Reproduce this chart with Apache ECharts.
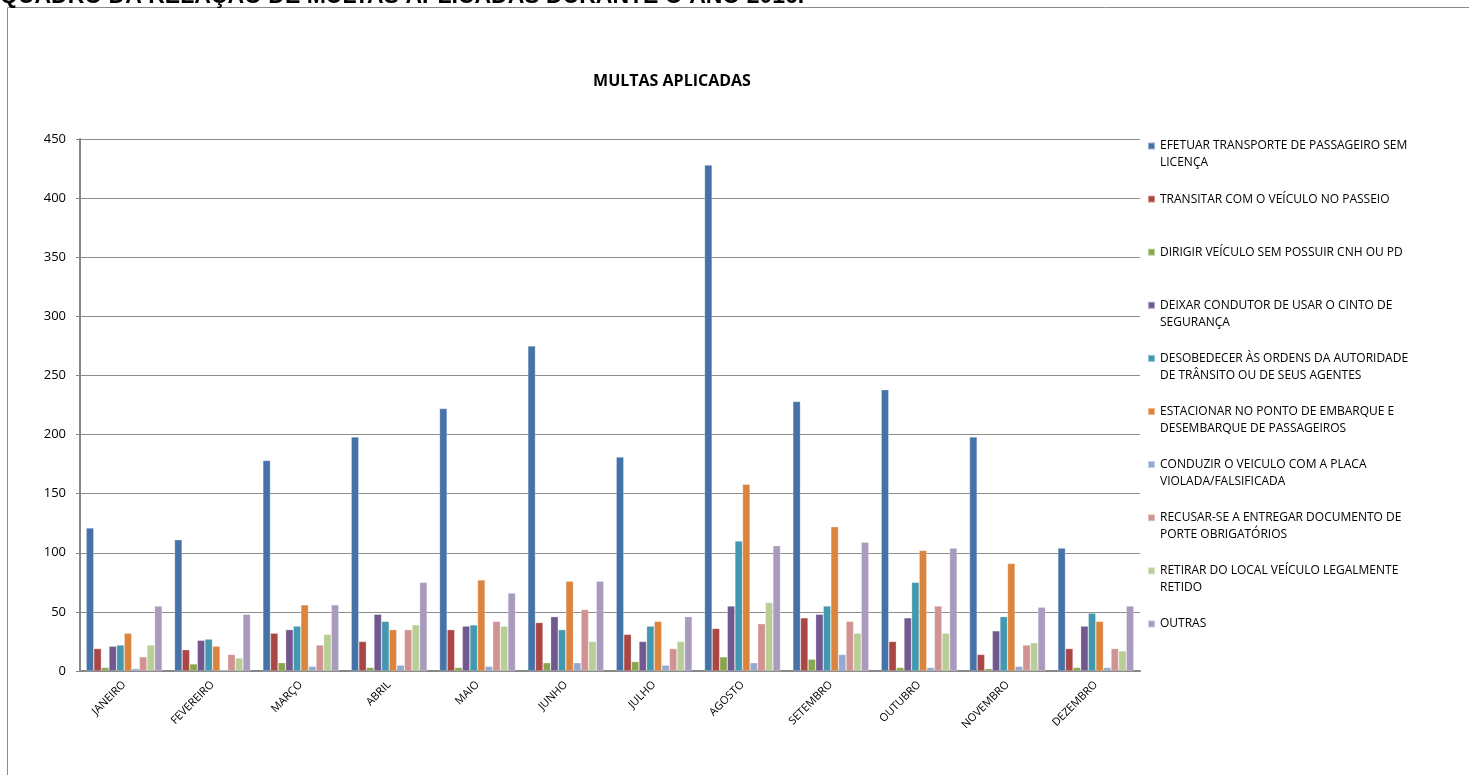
<!DOCTYPE html>
<html lang="pt">
<head>
    <meta charset="UTF-8">
    <title>Multas aplicadas</title>
    <script src="https://cdn.jsdelivr.net/npm/echarts@6/dist/echarts.min.js"></script>
    <style>
        html, body { margin: 0; padding: 0; background: #fff; }
        #main { width: 1469px; height: 775px; }
    </style>
</head>
<body>
<div id="main"></div>
<script>
    // meses
    var meses = ['JANEIRO', 'FEVEREIRO', 'MARÇO', 'ABRIL', 'MAIO', 'JUNHO',
        'JULHO', 'AGOSTO', 'SETEMBRO', 'OUTUBRO', 'NOVEMBRO', 'DEZEMBRO'];

    // tipos de infração (texto da legenda, já quebrado em duas linhas)
    var infracoes = [
        'EFETUAR TRANSPORTE DE PASSAGEIRO SEM\nLICENÇA',
        'TRANSITAR COM O VEÍCULO NO PASSEIO',
        'DIRIGIR VEÍCULO SEM POSSUIR CNH OU PD',
        'DEIXAR CONDUTOR DE USAR O CINTO DE\nSEGURANÇA',
        'DESOBEDECER ÀS ORDENS DA AUTORIDADE\nDE TRÂNSITO OU DE SEUS AGENTES',
        'ESTACIONAR NO PONTO DE EMBARQUE E\nDESEMBARQUE DE PASSAGEIROS',
        'CONDUZIR O VEICULO COM A PLACA\nVIOLADA/FALSIFICADA',
        'RECUSAR-SE A ENTREGAR DOCUMENTO DE\nPORTE OBRIGATÓRIOS',
        'RETIRAR DO LOCAL VEÍCULO LEGALMENTE\nRETIDO',
        'OUTRAS'
    ];

    // valores por infração (jan..dez)
    var transporteSemLicenca = [121, 111, 178, 198, 222, 275, 181, 428, 228, 238, 198, 104];
    var transitarPasseio     = [19, 18, 32, 25, 35, 41, 31, 36, 45, 25, 14, 19];
    var semCnh               = [3, 6, 7, 3, 3, 7, 8, 12, 10, 3, 2, 3];
    var cintoSeguranca       = [21, 26, 35, 48, 38, 46, 25, 55, 48, 45, 34, 38];
    var desobedecer          = [22, 27, 38, 42, 39, 35, 38, 110, 55, 75, 46, 49];
    var estacionarEmbarque   = [32, 21, 56, 35, 77, 76, 42, 158, 122, 102, 91, 42];
    var placaViolada         = [2, 1, 4, 5, 4, 7, 5, 7, 14, 3, 4, 3];
    var recusarDocumento     = [12, 14, 22, 35, 42, 52, 19, 40, 42, 55, 22, 19];
    var retirarVeiculo       = [22, 11, 31, 39, 38, 25, 25, 58, 32, 32, 24, 17];
    var outras               = [55, 48, 56, 75, 66, 76, 46, 106, 109, 104, 54, 55];

    var valores = [transporteSemLicenca, transitarPasseio, semCnh, cintoSeguranca, desobedecer,
        estacionarEmbarque, placaViolada, recusarDocumento, retirarVeiculo, outras];

    var cores = ['#4572A7', '#AA4643', '#89A54E', '#71588F', '#4198AF',
        '#DB843D', '#93A9CF', '#D19392', '#B9CD96', '#A99BBD'];

    var fonte = '"Open Sans", "Noto Sans", sans-serif';

    var series = [];
    for (var i = 0; i < infracoes.length; i++) {
        series.push({
            name: infracoes[i],
            type: 'bar',
            data: valores[i],
            barGap: '0%',
            barCategoryGap: '14%',
            itemStyle: { color: cores[i], borderColor: 'rgba(255,255,255,0.45)', borderWidth: 0.6 }
        });
    }

    var myChart = echarts.init(document.getElementById('main'));

    var option = {
        animation: false,
        backgroundColor: '#fff',
        color: cores,
        title: {
            text: 'MULTAS APLICADAS',
            left: 667,
            textAlign: 'center',
            top: 68,
            textStyle: { fontFamily: fonte, fontSize: 16, fontWeight: 'bold', color: '#000' }
        },
        graphic: [
            {
                type: 'rect',
                shape: { x: 7.5, y: 7.5, width: 1500, height: 800 },
                style: { fill: 'none', stroke: '#8a8a8a', lineWidth: 1 },
                silent: true
            },
            {
                // título da página, cortado no topo como no original
                type: 'text',
                x: 0,
                y: 8,
                style: {
                    text: 'QUADRO DA RELAÇÃO DE MULTAS APLICADAS DURANTE O ANO 2016.',
                    font: 'bold 23px "Liberation Sans", Arial, sans-serif',
                    fill: '#000',
                    verticalAlign: 'bottom'
                },
                silent: true
            }
        ],
        legend: {
            orient: 'vertical',
            left: 1147,
            top: 120.5,
            padding: 0,
            itemGap: 2.1,
            itemWidth: 7,
            itemHeight: 7,
            icon: 'rect',
            selectedMode: false,
            data: infracoes,
            // linha em branco antes do texto: o quadrado fica alinhado com a 1a linha
            formatter: function (name) {
                return ' \n' + (name.indexOf('\n') < 0 ? name + '\n ' : name);
            },
            textStyle: {
                fontFamily: fonte,
                fontSize: 12,
                lineHeight: 17,
                color: '#000'
            }
        },
        grid: {
            left: 80,
            right: 329,
            top: 139,
            bottom: 104,
            containLabel: false
        },
        xAxis: {
            type: 'category',
            data: meses,
            axisLine: { lineStyle: { color: '#868686', width: 2 } },
            axisTick: { show: false },
            axisLabel: {
                rotate: 45,
                interval: 0,
                margin: 12,
                fontFamily: fonte,
                fontSize: 11,
                color: '#000'
            }
        },
        yAxis: {
            type: 'value',
            min: 0,
            max: 450,
            interval: 50,
            axisLine: { show: true, lineStyle: { color: '#868686', width: 2 } },
            axisTick: { show: true, length: 4, lineStyle: { color: '#868686' } },
            splitLine: { lineStyle: { color: '#8c8c8c', width: 1 } },
            axisLabel: {
                margin: 14,
                fontFamily: fonte,
                fontSize: 13,
                color: '#000'
            }
        },
        series: series
    };

    myChart.setOption(option);
</script>
</body>
</html>
